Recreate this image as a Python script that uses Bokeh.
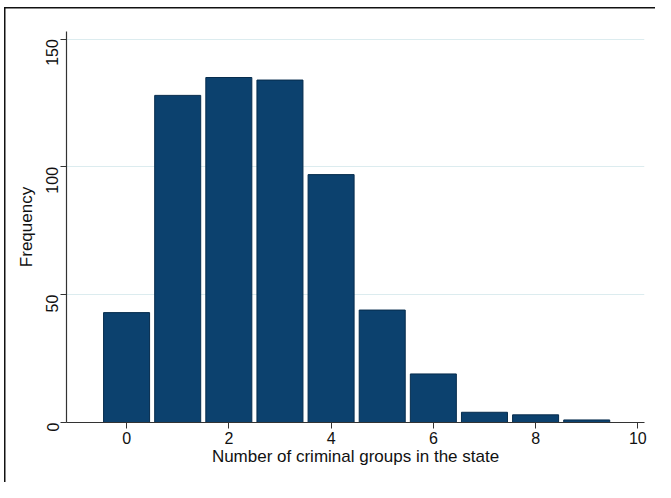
from bokeh.plotting import figure
from bokeh.models import ColumnDataSource, FixedTicker, Range1d
from bokeh.embed import file_html
from bokeh.resources import INLINE

groups = [0, 1, 2, 3, 4, 5, 6, 7, 8, 9]
frequency = [43, 128, 135, 134, 97, 44, 19, 4, 3, 1]
x_ticks = [0, 2, 4, 6, 8, 10]
y_ticks = [0, 50, 100, 150]

src = ColumnDataSource(dict(x=groups, top=frequency))

p = figure(width=655, height=482, output_backend="svg", toolbar_location=None,
           x_range=Range1d(-1.175, 10.13), y_range=Range1d(0, 153),
           min_border_left=66, min_border_right=11, min_border_top=31, min_border_bottom=60)
p.styles = {
    "background": "linear-gradient(#111, #111) 4px 7px / 1.5px 100% no-repeat, "
                  "linear-gradient(#111, #111) 4px 7px / 100% 1.5px no-repeat, white"
}
p.outline_line_color = None
p.background_fill_color = "white"
p.border_fill_color = None

p.vbar(x="x", top="top", bottom=0, width=0.9, source=src,
       fill_color="#0c416e", line_color="#062c4d", line_width=1)

font = "Liberation Sans"
p.xaxis.ticker = FixedTicker(ticks=x_ticks)
p.yaxis.ticker = FixedTicker(ticks=y_ticks)
p.xaxis.axis_label = "Number of criminal groups in the state"
p.yaxis.axis_label = "Frequency"
for ax in (p.xaxis, p.yaxis):
    ax.axis_label_text_font = font
    ax.axis_label_text_font_style = "normal"
    ax.axis_label_text_font_size = "17px"
    ax.axis_label_text_color = "#111111"
    ax.major_label_text_font = font
    ax.major_label_text_font_size = "16px"
    ax.major_label_text_color = "#111111"
    ax.axis_line_color = "#333333"
    ax.axis_line_width = 1.2
    ax.major_tick_line_color = "#333333"
    ax.major_tick_out = 6
    ax.major_tick_in = 0
    ax.minor_tick_line_color = None
p.yaxis.major_label_orientation = 1.5708
p.xaxis.axis_label_standoff = 0
p.yaxis.axis_label_standoff = 2
p.xaxis.major_label_standoff = 3
p.yaxis.major_label_standoff = 8

p.xgrid.grid_line_color = None
p.ygrid.ticker = FixedTicker(ticks=[50, 100, 150])
p.ygrid.grid_line_color = "#dcecef"
p.ygrid.grid_line_width = 1.2

open("out.html", "w").write(file_html(p, INLINE))
